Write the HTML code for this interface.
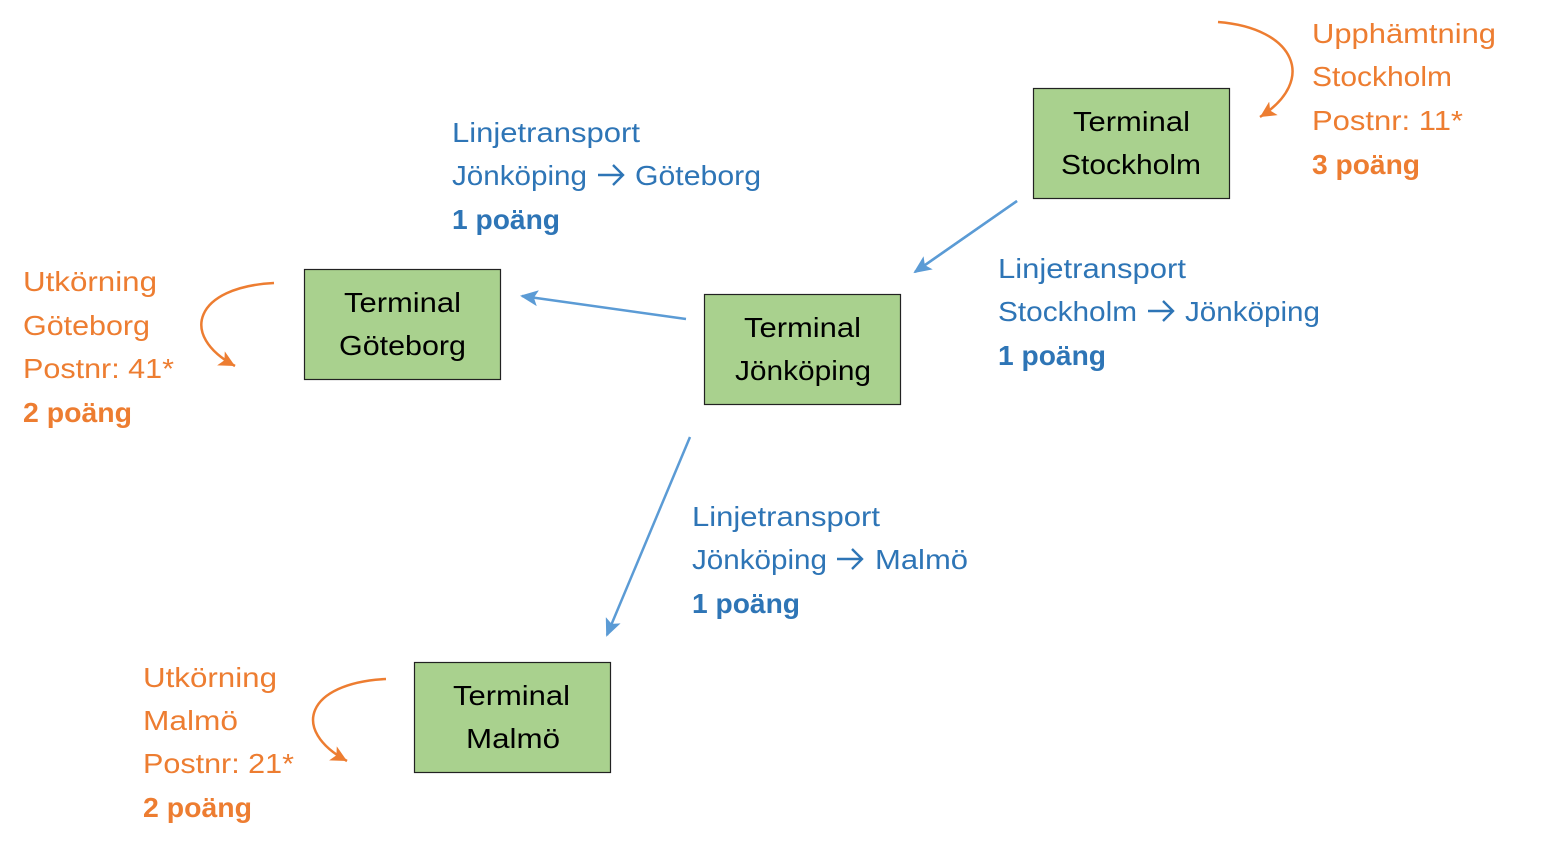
<!DOCTYPE html>
<html><head><meta charset="utf-8"><style>html,body{margin:0;padding:0;background:#fff}svg{display:block}</style></head>
<body>
<svg width="1548" height="855" viewBox="0 0 1548 855" xmlns="http://www.w3.org/2000/svg" font-family="Liberation Sans, sans-serif" font-size="28">
<defs>
<marker id="bl" markerWidth="20" markerHeight="20" refX="2" refY="8" orient="auto" markerUnits="userSpaceOnUse"><path d="M0,8 L18,0 L14,8 L18,16 Z" fill="#5b9bd5"/></marker>
<marker id="or" markerWidth="20" markerHeight="20" refX="16" refY="8" orient="auto" markerUnits="userSpaceOnUse"><path d="M16,8 L0,0 L4,8 L0,16 Z" fill="#ed7d31"/></marker>
</defs>
<g fill="#a9d18e" stroke="#222" stroke-width="1.2">
<rect x="1033.5" y="88.5" width="196" height="110"/>
<rect x="304.5" y="269.5" width="196" height="110"/>
<rect x="704.5" y="294.5" width="196" height="110"/>
<rect x="414.5" y="662.5" width="196" height="110"/>
</g>
<g fill="#000" lengthAdjust="spacingAndGlyphs">
<text x="1073" y="131" textLength="117" lengthAdjust="spacingAndGlyphs">Terminal</text><text x="1061" y="174" textLength="140" lengthAdjust="spacingAndGlyphs">Stockholm</text>
<text x="344" y="312" textLength="117" lengthAdjust="spacingAndGlyphs">Terminal</text><text x="339" y="355" textLength="127" lengthAdjust="spacingAndGlyphs">Göteborg</text>
<text x="744" y="337" textLength="117" lengthAdjust="spacingAndGlyphs">Terminal</text><text x="735" y="380" textLength="136" lengthAdjust="spacingAndGlyphs">Jönköping</text>
<text x="453" y="705" textLength="117" lengthAdjust="spacingAndGlyphs">Terminal</text><text x="466" y="748" textLength="94" lengthAdjust="spacingAndGlyphs">Malmö</text>
</g>
<g stroke="#5b9bd5" stroke-width="2.5" fill="none">
<line x1="1017" y1="201" x2="915" y2="272" marker-end="url(#bl)" style="marker-end:none"/>
<line x1="915" y1="272" x2="1017" y2="201" marker-start="url(#bl)"/>
<line x1="522" y1="296" x2="686" y2="319" marker-start="url(#bl)"/>
<line x1="607" y1="635" x2="690" y2="437" marker-start="url(#bl)"/>
</g>
<g stroke="#ed7d31" stroke-width="2.5" fill="none">
<path d="M1218,22 C1295,28 1318,80 1260,117" marker-end="url(#or)"/>
<path d="M274,283 C195,287 178,335 235,366" marker-end="url(#or)"/>
<path d="M386,679 C306,683 290,730 347,761" marker-end="url(#or)"/>
</g>
<g stroke="#2e75b6" stroke-width="2.4" fill="none">
<path d="M598,175 H623 M613,165 L623,175 L613,185"/>
<path d="M1148,311 H1173 M1163,301 L1173,311 L1163,321"/>
<path d="M837,559 H862 M852,549 L862,559 L852,569"/>
</g>
<g fill="#2e75b6">
<text x="452" y="142" textLength="188" lengthAdjust="spacingAndGlyphs">Linjetransport</text>
<text x="452" y="185" textLength="135" lengthAdjust="spacingAndGlyphs">Jönköping</text>
<text x="635" y="185" textLength="126" lengthAdjust="spacingAndGlyphs">Göteborg</text>
<text x="452" y="229" font-weight="bold" textLength="108" lengthAdjust="spacingAndGlyphs">1 poäng</text>
<text x="998" y="278" textLength="188" lengthAdjust="spacingAndGlyphs">Linjetransport</text>
<text x="998" y="321" textLength="139" lengthAdjust="spacingAndGlyphs">Stockholm</text>
<text x="1185" y="321" textLength="135" lengthAdjust="spacingAndGlyphs">Jönköping</text>
<text x="998" y="365" font-weight="bold" textLength="108" lengthAdjust="spacingAndGlyphs">1 poäng</text>
<text x="692" y="526" textLength="188" lengthAdjust="spacingAndGlyphs">Linjetransport</text>
<text x="692" y="569" textLength="135" lengthAdjust="spacingAndGlyphs">Jönköping</text>
<text x="875" y="569" textLength="93" lengthAdjust="spacingAndGlyphs">Malmö</text>
<text x="692" y="613" font-weight="bold" textLength="108" lengthAdjust="spacingAndGlyphs">1 poäng</text>
</g>
<g fill="#ed7d31">
<text x="1312" y="43" textLength="184" lengthAdjust="spacingAndGlyphs">Upphämtning</text>
<text x="1312" y="86" textLength="140" lengthAdjust="spacingAndGlyphs">Stockholm</text>
<text x="1312" y="130" textLength="151" lengthAdjust="spacingAndGlyphs">Postnr: 11*</text>
<text x="1312" y="174" font-weight="bold" textLength="108" lengthAdjust="spacingAndGlyphs">3 poäng</text>
<text x="23" y="291" textLength="134" lengthAdjust="spacingAndGlyphs">Utkörning</text>
<text x="23" y="335" textLength="127" lengthAdjust="spacingAndGlyphs">Göteborg</text>
<text x="23" y="378" textLength="151" lengthAdjust="spacingAndGlyphs">Postnr: 41*</text>
<text x="23" y="422" font-weight="bold" textLength="109" lengthAdjust="spacingAndGlyphs">2 poäng</text>
<text x="143" y="687" textLength="134" lengthAdjust="spacingAndGlyphs">Utkörning</text>
<text x="143" y="730" textLength="95" lengthAdjust="spacingAndGlyphs">Malmö</text>
<text x="143" y="773" textLength="151" lengthAdjust="spacingAndGlyphs">Postnr: 21*</text>
<text x="143" y="817" font-weight="bold" textLength="109" lengthAdjust="spacingAndGlyphs">2 poäng</text>
</g>
</svg>
</body></html>
